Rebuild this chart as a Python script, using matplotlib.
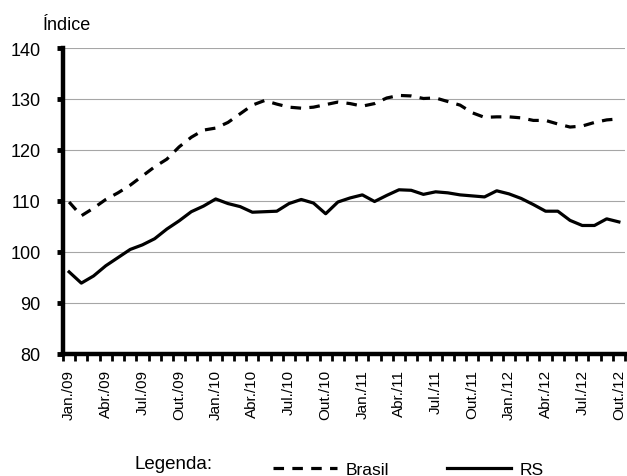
import matplotlib
matplotlib.use("Agg")
import matplotlib.pyplot as plt
import numpy as np

plt.rcParams['font.family'] = ['Liberation Sans', 'DejaVu Sans']

# Monthly index, Jan/2009 - Out/2012
months = ["Jan./09", "Fev./09", "Mar./09", "Abr./09", "Mai./09", "Jun./09",
          "Jul./09", "Ago./09", "Set./09", "Out./09", "Nov./09", "Dez./09",
          "Jan./10", "Fev./10", "Mar./10", "Abr./10", "Mai./10", "Jun./10",
          "Jul./10", "Ago./10", "Set./10", "Out./10", "Nov./10", "Dez./10",
          "Jan./11", "Fev./11", "Mar./11", "Abr./11", "Mai./11", "Jun./11",
          "Jul./11", "Ago./11", "Set./11", "Out./11", "Nov./11", "Dez./11",
          "Jan./12", "Fev./12", "Mar./12", "Abr./12", "Mai./12", "Jun./12",
          "Jul./12", "Ago./12", "Set./12", "Out./12"]

brasil = [109.8, 107.1, 108.6, 110.3, 111.6, 113.1, 114.9, 116.7, 118.2, 120.6,
          122.5, 123.9, 124.3, 125.4, 127.1, 128.8, 129.7, 129.0, 128.4, 128.2,
          128.4, 128.9, 129.4, 129.1, 128.6, 129.1, 130.2, 130.7, 130.6, 130.1,
          130.2, 129.5, 128.8, 127.3, 126.4, 126.5, 126.5, 126.3, 125.8, 125.8,
          125.1, 124.5, 124.7, 125.4, 125.9, 126.1]

rs = [96.1, 93.9, 95.3, 97.3, 98.9, 100.5, 101.4, 102.6, 104.5, 106.1,
      107.9, 109.0, 110.4, 109.5, 108.9, 107.8, 107.9, 108.0, 109.5, 110.3,
      109.6, 107.5, 109.8, 110.6, 111.2, 109.9, 111.1, 112.2, 112.1, 111.3,
      111.8, 111.6, 111.2, 111.0, 110.8, 112.0, 111.4, 110.5, 109.3, 108.0,
      108.0, 106.2, 105.2, 105.2, 106.5, 105.9]

label_step = 3
y_ticks = [80, 90, 100, 110, 120, 130, 140]

W, H = 627, 477
fig = plt.figure(figsize=(W / 100, H / 100), dpi=100)
ax = fig.add_axes([63 / W, 1 - 355 / H, (625 - 63) / W, (355 - 49) / H])

x = np.arange(len(months))
l_br, = ax.plot(x, brasil, color='black', lw=2.3, dashes=(3.3, 2.6),
                solid_capstyle='butt', dash_capstyle='butt', label='Brasil')
l_rs, = ax.plot(x, rs, color='black', lw=2.3, label='RS')

ax.set_xlim(-0.5, len(months) - 0.5)
ax.set_ylim(80, 140)
ax.set_yticks(y_ticks)
ax.set_yticklabels([str(v) for v in y_ticks], fontsize=13)
ax.yaxis.grid(True, color='#a6a6a6', lw=0.8)
ax.set_axisbelow(True)

tick_pos = x[::label_step]
ax.set_xticks(tick_pos)
ax.set_xticklabels([months[i] for i in tick_pos], rotation=90, fontsize=11,
                   va='top', ha='center')
ax.set_xticks(np.arange(-0.5, len(months)), minor=True)
ax.tick_params(axis='x', which='major', length=0, pad=11)
ax.tick_params(axis='x', which='minor', length=5, width=2, direction='out')
ax.tick_params(axis='y', which='major', length=4, width=3.5, direction='out',
               pad=12)

for s in ('top', 'right'):
    ax.spines[s].set_visible(False)
for s in ('left', 'bottom'):
    ax.spines[s].set_linewidth(3.2)
    ax.spines[s].set_color('black')

fig.text(43 / W, 1 - 30 / H, "Índice", fontsize=13, ha='left', va='baseline')

fig.text(135 / W, 1 - 469 / H, "Legenda:", fontsize=13.5, ha='left',
         va='baseline')
fig.legend(handles=[l_br, l_rs], labels=['Brasil', 'RS'], ncol=2,
           loc='center left', bbox_to_anchor=(273 / W, 1 - 470.5 / H),
           frameon=False, fontsize=12.5, handlelength=3.7, handletextpad=0.5,
           columnspacing=3.3, borderpad=0, borderaxespad=0)

fig.savefig("out.png", dpi=100)
